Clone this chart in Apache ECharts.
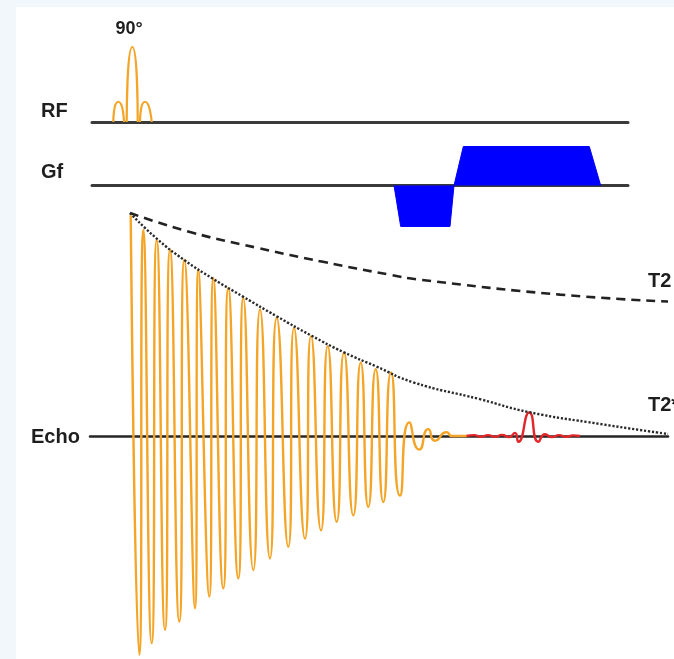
<!DOCTYPE html>
<html>
<head>
<meta charset="utf-8">
<script src="https://cdn.jsdelivr.net/npm/echarts@6/dist/echarts.min.js"></script>
<style>
  html, body { margin: 0; padding: 0; background: #f2f7fc; }
  #panel { position: absolute; left: 16px; top: 7px; width: 658px; height: 652px; background: #fff; }
  #main { position: absolute; left: 0; top: 0; width: 674px; height: 659px; }
</style>
</head>
<body>
<div id="panel"></div>
<div id="main"></div>
<script>
// time in ms, amplitudes normalised to the biggest peak of each row
const rfLobes = [
  [[2.33, 0], [2.83, 0.27], [3.40, 0]],
  [[3.67, 0], [4.23, 1], [4.77, 0]],
  [[5.00, 0], [5.50, 0.27], [6.17, 0]]
];

const gfTime = [30.4, 31.07, 36.0, 36.4, 37.33, 49.93, 51.07];
const gfAmp = [0, -1.05, -1.05, 0, 1, 1, 0];

// FID: peaks and troughs
const fidTime = [4.07, 4.93, 5.33, 6.17, 6.67, 7.5, 8.0, 8.93, 9.43, 10.5, 10.83, 11.93, 12.33, 13.33,
  13.83, 14.83, 15.33, 16.33, 17.0, 18.0, 18.67, 19.83, 20.4, 21.5, 22.1, 23.1, 23.77, 24.67, 25.4,
  26.33, 27.07, 27.83, 28.57, 29.33, 30.1, 31.0, 31.93, 32.93, 33.83, 34.5, 35.67, 36.2, 37.67];
const fidAmp = [0.99, -0.981, 0.924, -0.929, 0.879, -0.869, 0.835, -0.832, 0.790, -0.772, 0.746, -0.720,
  0.708, -0.683, 0.664, -0.638, 0.619, -0.601, 0.567, -0.549, 0.530, -0.497, 0.485, -0.460, 0.448,
  -0.423, 0.403, -0.385, 0.374, -0.356, 0.329, -0.318, 0.299, -0.296, 0.284, -0.267, 0.061, -0.061,
  0.031, -0.021, 0.017, 0, 0];

// gradient echo
const echoTime = [37.67, 38.4, 39.1, 39.8, 40.5, 41.2, 41.9, 42.5, 42.83, 43.93, 44.83, 45.5, 46.2, 46.9, 47.6, 48.3, 49.0];
const echoAmp = [0, 0.004, -0.004, 0.004, -0.004, 0.005, -0.005, 0.014, -0.026, 0.106, -0.026, 0.008, -0.005, 0.004, -0.004, 0.003, 0];

const t2Time = [4.0, 10.0, 16.7, 23.3, 30.0, 33.0, 47.0, 57.8];
const t2Amp = [1.0, 0.915, 0.844, 0.781, 0.723, 0.701, 0.634, 0.603];

const t2sTime = [4.0, 6.7, 9.4, 12.3, 15.3, 18.7, 22.1, 25.4, 28.6, 32.3, 39.0, 43.9, 51.0, 57.8];
const t2sAmp = [1.0, 0.884, 0.790, 0.705, 0.625, 0.536, 0.451, 0.375, 0.3125, 0.241, 0.165, 0.107, 0.054, 0.009];

const rowNames = ["RF", "Gf", "Echo"];
const pulseName = "90°";
const curveNames = ["T2", "T2*"];

const zip = (xs, ys) => xs.map((x, i) => [x, ys[i]]);

const ORANGE = "#f4a527";
const FONT = 'bold 20px "Liberation Sans", Arial, sans-serif';

const init = () => {
  let chartDom = document.getElementById("main");
  let myChart = echarts.init(chartDom);
  let option;

  const baseX = (idx, min, max, color, width) => ({
    type: "value",
    gridIndex: idx,
    min: min,
    max: max,
    axisLine: { show: true, onZero: true, lineStyle: { color: color, width: width } },
    axisTick: { show: false },
    axisLabel: { show: false },
    splitLine: { show: false }
  });
  const baseY = (idx, min, max) => ({
    type: "value",
    gridIndex: idx,
    min: min,
    max: max,
    axisLine: { show: false },
    axisTick: { show: false },
    axisLabel: { show: false },
    splitLine: { show: false }
  });

  option = {
    animation: false,
    grid: [
      { left: 92, top: 47, width: 536, height: 75 },   // RF
      { left: 92, top: 146.5, width: 536, height: 85.8 }, // Gf
      { left: 90, top: 213, width: 578, height: 448 }  // Echo
    ],
    xAxis: [
      baseX(0, 0.2, 53.8, "#3a3a3a", 3),
      baseX(1, 0.2, 53.8, "#3a3a3a", 3),
      baseX(2, 0, 57.8, "#262626", 2.5)
    ],
    yAxis: [
      baseY(0, 0, 1),
      baseY(1, -1.2, 1),
      baseY(2, -1, 1)
    ],
    series: [
      ...rfLobes.map((lobe) => ({
        type: "line",
        xAxisIndex: 0,
        yAxisIndex: 0,
        data: lobe,
        smooth: 1,
        showSymbol: false,
        clip: false,
        lineStyle: { color: ORANGE, width: 2.2 }
      })),
      {
        type: "line",
        xAxisIndex: 1,
        yAxisIndex: 1,
        data: zip(gfTime, gfAmp),
        showSymbol: false,
        clip: false,
        lineStyle: { color: "#0000ff", width: 1 },
        areaStyle: { color: "#0000ff", opacity: 1 }
      },
      {
        type: "line",
        xAxisIndex: 2,
        yAxisIndex: 2,
        data: zip(fidTime, fidAmp),
        smooth: 0.7,
        showSymbol: false,
        clip: false,
        lineStyle: { color: ORANGE, width: 2.4 }
      },
      {
        type: "line",
        xAxisIndex: 2,
        yAxisIndex: 2,
        data: zip(echoTime, echoAmp),
        smooth: 0.6,
        showSymbol: false,
        clip: false,
        lineStyle: { color: "#e3262a", width: 2.4 }
      },
      {
        type: "line",
        xAxisIndex: 2,
        yAxisIndex: 2,
        data: zip(t2Time, t2Amp),
        smooth: true,
        showSymbol: false,
        clip: false,
        lineStyle: { color: "#222", width: 2.6, type: [9, 6] }
      },
      {
        type: "line",
        xAxisIndex: 2,
        yAxisIndex: 2,
        data: zip(t2sTime, t2sAmp),
        smooth: true,
        showSymbol: false,
        clip: false,
        lineStyle: { color: "#2a2a2a", width: 2.4, type: [2.2, 1.8] }
      }
    ],
    graphic: [
      { type: "text", x: 129, y: 29, style: { text: pulseName, font: 'bold 18px "Liberation Sans", Arial, sans-serif', fill: "#1e1e1e", align: "center", verticalAlign: "middle" } },
      { type: "text", x: 41, y: 111, style: { text: rowNames[0], font: FONT, fill: "#1e1e1e", verticalAlign: "middle" } },
      { type: "text", x: 41, y: 172, style: { text: rowNames[1], font: FONT, fill: "#1e1e1e", verticalAlign: "middle" } },
      { type: "text", x: 31, y: 437, style: { text: rowNames[2], font: FONT, fill: "#1e1e1e", verticalAlign: "middle" } },
      { type: "text", x: 648, y: 281, style: { text: curveNames[0], font: FONT, fill: "#1e1e1e", verticalAlign: "middle" } },
      { type: "text", x: 648, y: 405, style: { text: curveNames[1], font: FONT, fill: "#1e1e1e", verticalAlign: "middle" } }
    ]
  };

  option && myChart.setOption(option);
};

init();
</script>
</body>
</html>
